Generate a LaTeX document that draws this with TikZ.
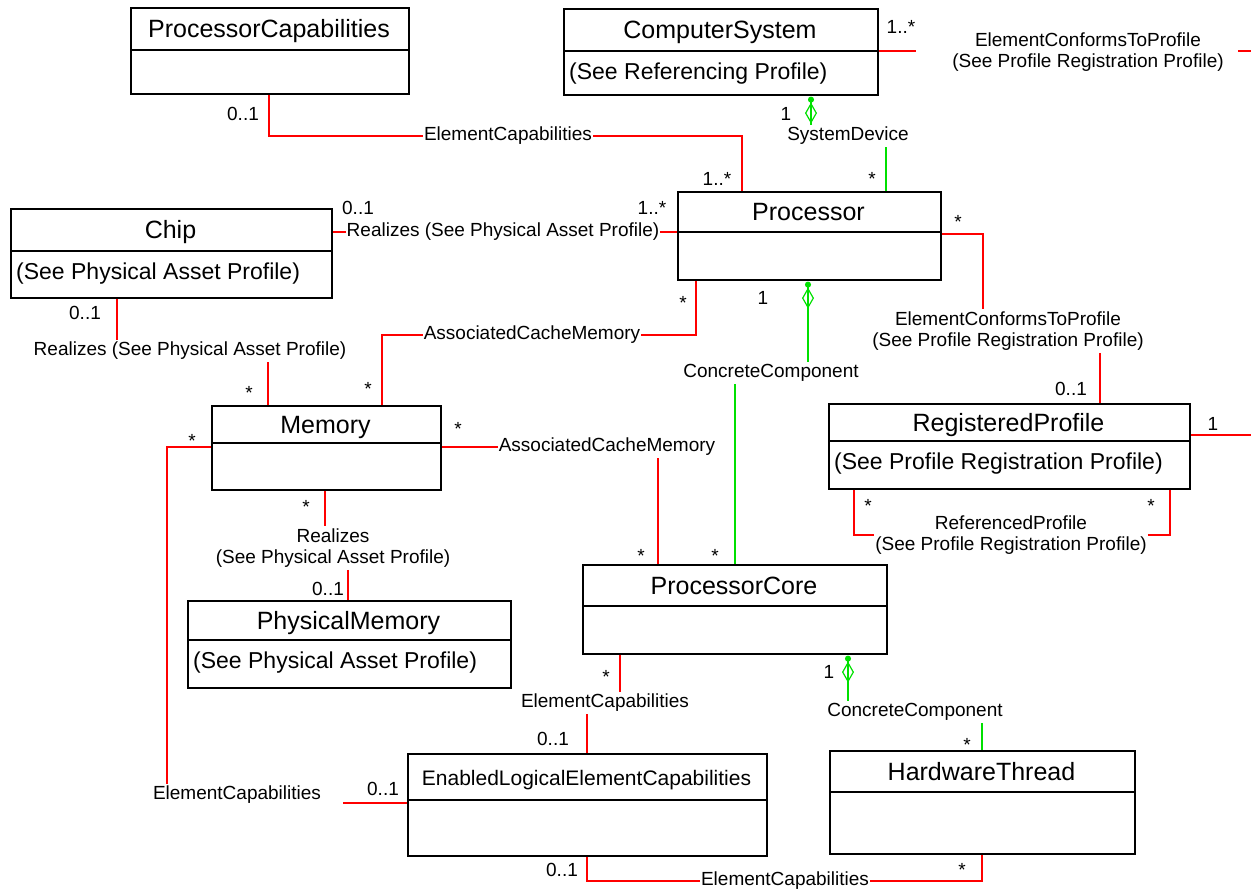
\documentclass[tikz,border=0pt]{standalone}
\usepackage{fontspec}
\setmainfont{Liberation Sans}
\usetikzlibrary{arrows.meta}
\definecolor{linkred}{RGB}{255,0,0}
\definecolor{linkgreen}{RGB}{0,224,0}

\begin{document}
\begin{tikzpicture}[x=1pt, y=-1pt,
	cls/.style={ draw, line width=1.6pt, inner sep=0pt, anchor=north west },
	clstitle/.style={ anchor=base, inner sep=0pt, font=\fontsize{25}{30}\selectfont },
	clsbody/.style={ anchor=base west, inner sep=0pt, font=\fontsize{23}{28}\selectfont },
	lbl/.style={ align=center, inner xsep=1pt, inner ysep=2pt, font=\fontsize{19}{21.5}\selectfont },
	mult/.style={ anchor=base, inner sep=0pt, font=\fontsize{19}{22}\selectfont },
	linkr/.style={ draw=linkred, line width=1.2pt },
	linkg/.style={ draw=linkgreen, line width=1.2pt },
	linkgd/.style={ linkg, arrows={Circle[length=6pt,sep=1pt] Diamond[open,length=21pt,width=12pt]-} }
]

\useasboundingbox (0,0) rectangle (1251,892);

\foreach \nm/\xa/\ya/\xb/\yb/\yd/\ttl/\bdy in {
	pcap/130/7/408/93/50/ProcessorCapabilities/{},
	csys/563/8/877/94/51/ComputerSystem/(See Referencing Profile),
	chip/10/208/331/297/251/Chip/(See Physical Asset Profile),
	proc/677/191/940/279/232/Processor/{},
	mem/211/405/440/489/443/Memory/{},
	pmem/187/600/510/687/640/PhysicalMemory/(See Physical Asset Profile),
	rprof/828/403/1189/488/441/RegisteredProfile/(See Profile Registration Profile),
	pcore/582/564/886/653/606/ProcessorCore/{},
	elec/407/753/766/855/800/{\fontsize{21}{25}\selectfont EnabledLogicalElementCapabilities}/{},
	hwt/829/750/1134/853/792/HardwareThread/{}} {
	\node[cls, minimum width={(\xb-\xa)*1pt}, minimum height={(\yb-\ya)*1pt}] (\nm) at (\xa,\ya) {};
	\draw[line width=1.6pt] (\nm.west |- 0,\yd) -- (\nm.east |- 0,\yd);
	\node[clstitle] (\nm-t) at ({(\xa+\xb)/2},{(\ya+\yd)/2+9}) {\ttl};
	\node[clsbody] (\nm-b) at (\xa+6,\yd+28) {\bdy};
}

\node[lbl] (ec1) at (508,136) {ElementCapabilities};
\node[lbl] (sd) at (848,136) {SystemDevice};
\node[lbl] (ecp1) at (1088,52) {ElementConformsToProfile\\(See Profile Registration Profile)};
\node[lbl] (rz1) at (503,232) {Realizes (See Physical Asset Profile)};
\node[lbl] (rz2) at (190,351) {Realizes (See Physical Asset Profile)};
\node[lbl] (acm1) at (532,335) {AssociatedCacheMemory};
\node[lbl] (cc1) at (771,373) {ConcreteComponent};
\node[lbl] (ecp2) at (1008,331) {ElementConformsToProfile\\(See Profile Registration Profile)};
\node[lbl] (acm2) at (607,447) {AssociatedCacheMemory};
\node[lbl] (rz3) at (333,548) {Realizes\\(See Physical Asset Profile)};
\node[lbl] (rp) at (1011,535) {ReferencedProfile\\(See Profile Registration Profile)};
\node[lbl] (ec2) at (237,795) {ElementCapabilities};
\node[lbl] (ec3) at (605,703) {ElementCapabilities};
\node[lbl] (cc2) at (915,712) {ConcreteComponent};
\node[lbl] (ec4) at (785,881) {ElementCapabilities};

\coordinate (ecpa) at (916,51);
\coordinate (ecpb) at (1238,51);
\coordinate (ecpc) at (1251,51);
\coordinate (rpe) at (1251,435);
\coordinate (ec2e) at (343,803);

\draw[linkr] (pcap.south -| 269,0) |- (ec1.west);
\draw[linkr] (ec1.east) -| (proc.north -| 742,0);
\draw[linkgd] (csys.south -| 811,0) -- (sd.north -| 811,0);
\draw[linkg] (sd.south -| 886,0) -- (proc.north -| 886,0);
\draw[linkr] (csys.east |- ecpa) -- (ecpa);
\draw[linkr] (ecpb) -- (ecpc);
\draw[linkr] (rprof.east |- rpe) -- (rpe);
\draw[linkr] (chip.east |- rz1.west) -- (rz1.west);
\draw[linkr] (rz1.east) -- (proc.west |- rz1.east);
\draw[linkr] (chip.south -| 117,0) -- (rz2.north -| 117,0);
\draw[linkr] (rz2.south -| 268,0) -- (mem.north -| 268,0);
\draw[linkr] (proc.south -| 696,0) |- (acm1.east);
\draw[linkr] (acm1.west) -| (mem.north -| 382,0);
\draw[linkgd] (proc.south -| 808,0) -- (cc1.north -| 808,0);
\draw[linkg] (cc1.south -| 735,0) -- (pcore.north -| 735,0);
\draw[linkr] (proc.east |- 0,234) -| (ecp2.north -| 983,0);
\draw[linkr] (ecp2.south -| 1100,0) -- (rprof.north -| 1100,0);
\draw[linkr] (mem.east |- acm2.west) -- (acm2.west);
\draw[linkr] (acm2.south -| 658,0) -- (pcore.north -| 658,0);
\draw[linkr] (mem.south -| 325,0) -- (rz3.north -| 325,0);
\draw[linkr] (rz3.south -| 348,0) -- (pmem.north -| 348,0);
\draw[linkr] (mem.west |- acm2.west) -| (ec2.north -| 167,0);
\draw[linkr] (ec2e) -- (elec.west |- ec2e);
\draw[linkr] (pcore.south -| 620,0) -- (ec3.north -| 620,0);
\draw[linkr] (ec3.south -| 587,0) -- (elec.north -| 587,0);
\draw[linkgd] (pcore.south -| 848,0) -- (cc2.north -| 848,0);
\draw[linkg] (cc2.south -| 982,0) -- (hwt.north -| 982,0);
\draw[linkr] (elec.south -| 587,0) |- (ec4.west);
\draw[linkr] (ec4.east) -| (hwt.south -| 982,0);
\draw[linkr] (rprof.south -| 854,0) |- (rp.west);
\draw[linkr] (rp.east) -| (rprof.south -| 1170,0);

\foreach \nm/\mx/\my/\m in {
	m1/243/120/0..1, m2/901/33/1..*, m3/786/120/1, m4/717/185/1..*,
	m5/872/185/*, m6/358/214/0..1, m7/652/214/1..*, m8/958/228/*,
	m9/85/319/0..1, m10/249/399/*, m11/368/395/*, m12/683/309/*,
	m13/763/304/1, m14/1071/395/0..1, m15/1213/430/1, m16/458/435/*,
	m17/192/447/*, m18/306/513/*, m19/328/595/0..1, m20/641/562/*,
	m21/715/562/*, m22/868/512/*, m23/1151/512/*, m24/606/683/*,
	m25/829/678/1, m26/553/745/0..1, m27/967/751/*, m28/383/795/0..1,
	m29/562/876/0..1, m30/962/876/*}
	\node[mult] (\nm) at (\mx,\my) {\m};

\end{tikzpicture}
\end{document}
